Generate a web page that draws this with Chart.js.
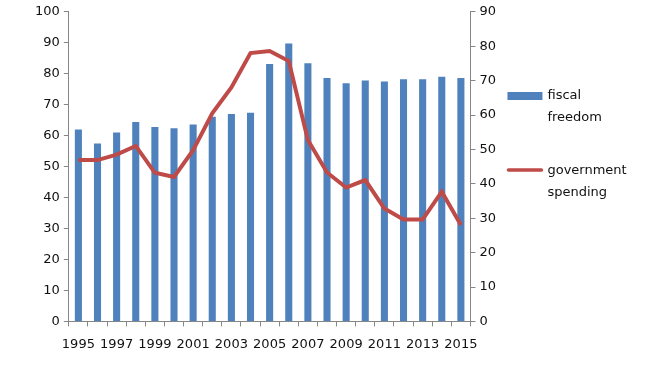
<!DOCTYPE html>
<html>
<head>
<meta charset="utf-8">
<script src="https://cdn.jsdelivr.net/npm/chart.js@4.4.1/dist/chart.umd.min.js"></script>
<style>
  html, body { margin: 0; padding: 0; background: #fff; }
  #wrap { width: 650px; height: 370px; }
</style>
</head>
<body>
<div id="wrap"><canvas id="mychart" width="650" height="370"></canvas></div>
<script>
var years = ['1995','1996','1997','1998','1999','2000','2001','2002','2003','2004',
  '2005','2006','2007','2008','2009','2010','2011','2012','2013','2014','2015'];
var fiscalFreedom = [62, 57.5, 61, 64.4, 62.8, 62.4, 63.6, 66.1, 67, 67.4,
  83.1, 89.8, 83.4, 78.6, 76.9, 77.8, 77.5, 78.2, 78.2, 79, 78.6];
var govSpending = [46.9, 46.9, 48.5, 51, 43.2, 42, 49.8, 60.5, 68, 78,
  78.6, 75.7, 52.7, 43.3, 38.9, 41.1, 32.8, 29.6, 29.6, 37.7, 28];
var legendNames = [['fiscal', 'freedom'], ['government', 'spending']];

var barColor = '#4F81BD';
var lineColor = '#BE4B48';
var axisColor = '#868686';
var textColor = '#111';
var font = { family: 'DejaVu Sans', size: 13 };

// legend drawn by hand so the labels can wrap on two lines like the original
var sideLegend = {
  id: 'sideLegend',
  afterDraw: function (chart) {
    var ctx = chart.ctx;
    var x = chart.chartArea.right + 37;
    ctx.save();
    ctx.font = '13px "DejaVu Sans"';
    ctx.textBaseline = 'middle';
    // fiscal freedom
    ctx.fillStyle = barColor;
    ctx.fillRect(x, 92, 35, 8);
    ctx.fillStyle = textColor;
    ctx.fillText(legendNames[0][0], x + 40, 96);
    ctx.fillText(legendNames[0][1], x + 40, 118);
    // government spending
    ctx.strokeStyle = lineColor;
    ctx.lineWidth = 3.5;
    ctx.lineCap = 'round';
    ctx.beginPath();
    ctx.moveTo(x + 1, 170);
    ctx.lineTo(x + 34, 170);
    ctx.stroke();
    ctx.fillText(legendNames[1][0], x + 40, 171);
    ctx.fillText(legendNames[1][1], x + 40, 193);
    ctx.restore();
  }
};

var ctx = document.getElementById('mychart').getContext('2d');
var chart = new Chart(ctx, {
  type: 'bar',
  data: {
    labels: years,
    datasets: [{
      type: 'line',
      label: 'government spending',
      data: govSpending,
      yAxisID: 'y2',
      borderColor: lineColor,
      backgroundColor: lineColor,
      borderWidth: 4,
      pointRadius: 0,
      tension: 0,
      order: 0
    }, {
      label: 'fiscal freedom',
      data: fiscalFreedom,
      yAxisID: 'y',
      backgroundColor: barColor,
      borderWidth: 0,
      barPercentage: 0.37,
      categoryPercentage: 1,
      order: 1
    }]
  },
  options: {
    responsive: false,
    animation: false,
    layout: { padding: { left: 31, right: 150, top: 8, bottom: 8 } },
    plugins: {
      legend: { display: false },
      tooltip: { enabled: false }
    },
    scales: {
      x: {
        offset: true,
        grid: { offset: true, drawOnChartArea: false, drawTicks: true, tickLength: 5, color: axisColor },
        border: { color: axisColor, width: 1 },
        ticks: {
          autoSkip: false,
          maxRotation: 0,
          color: textColor,
          font: font,
          padding: 10,
          callback: function (v, i) { return i % 2 === 0 ? years[i] : ''; }
        }
      },
      y: {
        position: 'left',
        min: 0, max: 100,
        grid: { drawOnChartArea: false, drawTicks: true, tickLength: 5, color: axisColor },
        border: { color: axisColor, width: 1 },
        ticks: { stepSize: 10, color: textColor, font: font, padding: 4 }
      },
      y2: {
        position: 'right',
        min: 0, max: 90,
        grid: { drawOnChartArea: false, drawTicks: true, tickLength: 5, color: axisColor },
        border: { color: axisColor, width: 1 },
        ticks: { stepSize: 10, color: textColor, font: font, padding: 4 }
      }
    }
  },
  plugins: [sideLegend]
});
</script>
</body>
</html>
